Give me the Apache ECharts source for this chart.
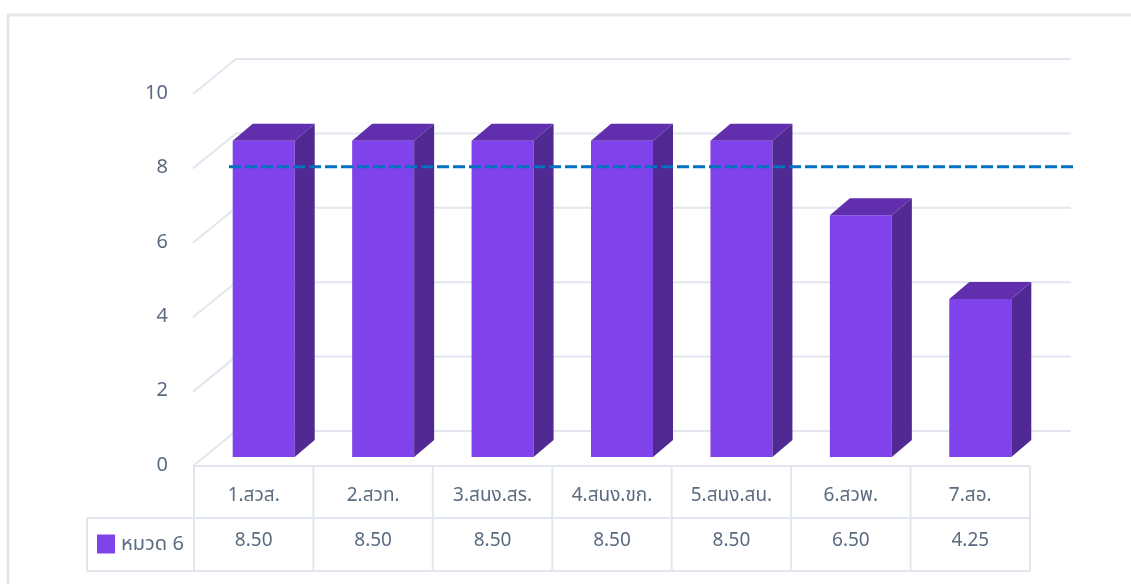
<!DOCTYPE html>
<html><head><meta charset="utf-8">
<style>html,body{margin:0;padding:0;background:#fff}#c{width:1131px;height:584px}</style>
<script src="https://cdn.jsdelivr.net/npm/echarts@6/dist/echarts.min.js"></script>
</head><body><div id="c"></div>
<script>
const categories = ['1.สวส.','2.สวท.','3.สนง.สร.','4.สนง.ขก.','5.สนง.สน.','6.สวพ.','7.สอ.'];
const seriesName = 'หมวด 6';
const values = [8.5,8.5,8.5,8.5,8.5,6.5,4.25];
const valueLabels = ['8.50','8.50','8.50','8.50','8.50','6.50','4.25'];
const gridTicks = [0,2,4,6,8,10];
const targetValue = [7.8];

const FONT = '"Noto Sans","Noto Sans Thai",sans-serif';
const TEXT = '#5b6b80', LINE = '#e2e7ef';
const FRONT = '#8042ea', TOP = '#612fae', SIDE = '#502a92';
const DX = 20, DY = 17;

const chart = echarts.init(document.getElementById('c'), null, {renderer:'canvas'});
chart.setOption({
  animation:false,
  textStyle:{fontFamily:FONT},
  graphic:[{type:'rect',z:-10,silent:true,shape:{x:8,y:15,width:1300,height:800},
    style:{fill:'#fff',stroke:'#e5e7eb',lineWidth:3}}],
  grid:{left:204,top:85,width:836,height:372,containLabel:false},
  legend:{show:true,left:92,top:529,icon:'rect',itemWidth:18,itemHeight:19,itemGap:0,data:[seriesName],
    selectedMode:false,textStyle:{color:TEXT,fontSize:20,fontFamily:FONT,padding:[0,0,17,1]}},
  xAxis:{type:'category',data:categories,axisLine:{show:false},axisTick:{show:false},
    axisLabel:{interval:0,margin:29,color:TEXT,fontSize:19,fontFamily:FONT,padding:[0,20,0,0]}},
  yAxis:{type:'value',min:0,max:10,interval:2,splitLine:{show:false},axisLine:{show:false},axisTick:{show:false},
    axisLabel:{margin:36,color:TEXT,fontSize:20,fontFamily:FONT,verticalAlign:'top',lineHeight:16}},
  series:[
    {type:'custom',name:'grid',silent:true,z:1,data:gridTicks.map(v=>[0,v]),
     renderItem(p,api){
       const y=api.coord([0,api.value(1)])[1];
       return {type:'polyline',shape:{points:[[193,y+9],[236,y-26],[1071,y-26]]},
         style:{fill:null,stroke:LINE,lineWidth:2}};
     }},
    {type:'custom',name:'table',silent:true,z:2,data:categories.map((c,i)=>[i,0]),
     renderItem(p,api){
       const i=api.value(0), cx=api.coord([i,0])[0]-10, w=119.4, l=cx-w/2, r=cx+w/2;
       const ln=(a,b,c2,d)=>({type:'line',shape:{x1:a,y1:b,x2:c2,y2:d},style:{stroke:LINE,lineWidth:2}});
       const kids=[ln(l,466,r,466),ln(l,518,r,518),ln(l,571,r,571),ln(r,466,r,571),
         {type:'text',style:{x:cx,y:541,text:valueLabels[i],fill:TEXT,fontSize:19,fontFamily:FONT,align:'center',verticalAlign:'middle'}}];
       if(i===0) kids.push(ln(l,466,l,571),ln(87,518,l,518),ln(87,571,l,571),ln(87,518,87,571));
       return {type:'group',children:kids};
     }},
    {type:'bar',name:seriesName,data:values,barWidth:62,z:3,itemStyle:{color:FRONT}},
    {type:'custom',name:'depth',silent:true,z:4,data:values.map((v,i)=>[i,v]),
     renderItem(p,api){
       const a=api.coord([api.value(0),api.value(1)]), b=api.coord([api.value(0),0]);
       const l=a[0]-31,r=a[0]+31,t=a[1],m=b[1];
       return {type:'group',children:[
         {type:'polygon',shape:{points:[[l,t],[l+DX,t-DY],[r+DX,t-DY],[r,t]]},style:{fill:TOP}},
         {type:'polygon',shape:{points:[[r,t],[r+DX,t-DY],[r+DX,m-DY],[r,m]]},style:{fill:SIDE}}
       ]};
     }},
    {type:'custom',name:'target',silent:true,z:5,data:targetValue.map(v=>[0,v]),
     renderItem(p,api){
       const y=api.coord([0,api.value(1)])[1];
       return {type:'line',shape:{x1:229,y1:y,x2:1073,y2:y},style:{stroke:'#0070c0',lineWidth:3,lineDash:[12,4]}};
     }}
  ]
});
</script></body></html>
